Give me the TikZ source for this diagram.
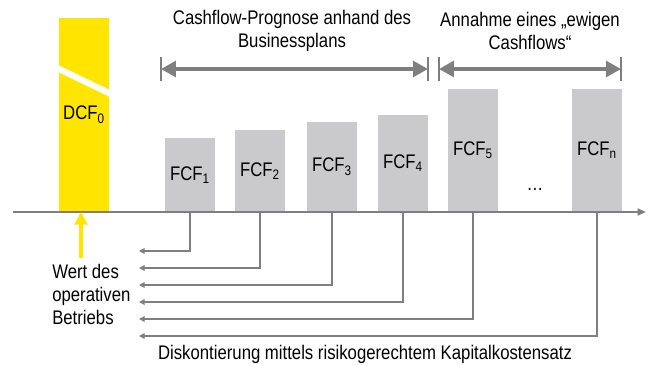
\documentclass[tikz,border=0pt]{standalone}
\usepackage{fontspec}
\setmainfont{Liberation Sans}[FakeStretch=0.85]
\usetikzlibrary{arrows.meta}
\definecolor{dcfyellow}{HTML}{FFE500}
\definecolor{barfill}{HTML}{CACACC}
\definecolor{linegray}{HTML}{7F7F7F}

\begin{document}
\begin{tikzpicture}[x=0.025cm,y=-0.025cm,  % pixel grid, y downwards
    every node/.style={font=\fontsize{14}{16.5}\selectfont},
    bar/.style={
      fill=barfill,
      minimum width=1.25cm,
      anchor=south,
      inner sep=0pt
    },
    dcfbar/.style={
      bar,
      fill=dcfyellow
    },
    disc/.style={
      draw=linegray,
      line width=1.1pt,
      -{Triangle[length=4pt,width=4pt]}
    },
    span/.style={
      draw=linegray,
      line width=2.8pt,
      {Triangle[length=10.5pt,width=11pt]}-{Triangle[length=10.5pt,width=11pt]}
    },
    tick/.style={draw=linegray,line width=0.9pt}
  ]
    \useasboundingbox (0,0) rectangle (648,366);

    % Present value bar
    \node[dcfbar,minimum height=4.85cm] (dcf) at (84,212) {DCF\textsubscript{0}};
    \fill[white] (58,65) -- (110,90) -- (110,97) -- (58,72) -- cycle;

    % Cashflow bars
    \node[bar,minimum height=1.85cm] (fcf1) at (190,212) {FCF\textsubscript{1}};
    \node[bar,minimum height=2.05cm] (fcf2) at (260,212) {FCF\textsubscript{2}};
    \node[bar,minimum height=2.25cm] (fcf3) at (332,212) {FCF\textsubscript{3}};
    \node[bar,minimum height=2.425cm] (fcf4) at (403,212) {FCF\textsubscript{4}};
    \node[bar,minimum height=3.075cm] (fcf5) at (473,212) {FCF\textsubscript{5}};
    \node[bar,minimum height=3.075cm] (fcfn) at (597,212) {FCF\textsubscript{n}};
    \node (dots) at (535,189) {\dots};

    % Time axis
    \coordinate (ax0) at (13,212);
    \coordinate (ax1) at (646,212);
    \draw[draw=linegray,line width=1.3pt,-{Triangle[length=6pt,width=5pt]}] (ax0) -- (ax1);

    % Discounting back to t=0
    \foreach \b/\y in {fcf1/251,fcf2/268,fcf3/285,fcf4/302,fcf5/319,fcfn/336} {
      \coordinate (end-\b) at (139,\y);
      \draw[disc] (\b.south) |- (end-\b);
    }

    % Value of operations
    \node[align=left,anchor=north west,inner sep=0pt] (wert) at (52,264)
      {Wert des\\operativen\\Betriebs};
    \draw[draw=dcfyellow,line width=2.4pt,-{Triangle[length=9pt,width=9pt]}]
      (wert.north -| dcf.south) ++(-3,-6) coordinate (wa) -- (wa |- dcf.south);

    % Planning periods
    \coordinate (s1a) at (161,69);
    \coordinate (s1b) at (428,69);
    \coordinate (s2a) at (439,69);
    \coordinate (s2b) at (621,69);
    \foreach \c in {s1a,s1b,s2a,s2b} {
      \draw[tick] (\c) ++(0,-12) -- ++(0,24);
    }
    \draw[span] (s1a) -- (s1b);
    \draw[span] (s2a) -- (s2b);

    \node[align=center] (plan) at (292,31) {Cashflow-Prognose anhand des\\Businessplans};
    \node[align=center] (ewig) at (530,31) {Annahme eines „ewigen\\Cashflows“};
    \node (zins) at (365,354) {Diskontierung mittels risikogerechtem Kapitalkostensatz};

  \end{tikzpicture}
\end{document}
